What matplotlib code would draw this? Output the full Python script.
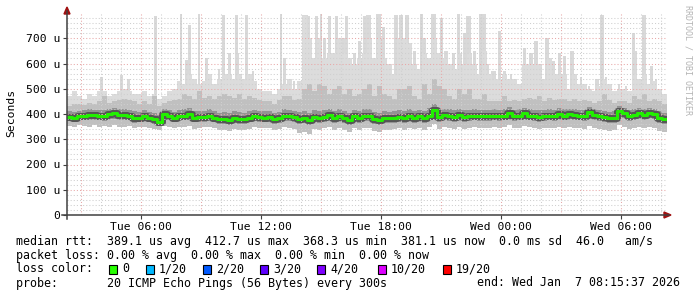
import matplotlib
matplotlib.use('Agg')
import matplotlib.pyplot as plt
from matplotlib.lines import Line2D
from matplotlib.patches import Rectangle, Polygon
import numpy as np

plt.rcParams['font.family'] = 'DejaVu Sans Mono'

# time axis: hours since Tue 00:00, one column per 15 minutes
t_start = 2.3
step = 0.25

median = [
    389, 386, 392, 394, 397, 397, 394, 392, 399, 402, 397, 397, 394, 384, 386, 392, 386, 381, 370, 399,
    392, 386, 392, 394, 399, 386, 389, 389, 394, 386, 381, 381, 378, 386, 381, 381, 386, 392, 389, 386,
    389, 381, 384, 392, 392, 389, 381, 384, 376, 389, 386, 389, 397, 386, 394, 386, 378, 392, 386, 392,
    392, 381, 376, 386, 384, 386, 389, 386, 392, 386, 392, 384, 394, 414, 389, 397, 392, 389, 397, 389,
    392, 394, 392, 392, 392, 394, 392, 394, 405, 392, 394, 402, 394, 392, 389, 392, 394, 392, 399, 394,
    399, 397, 394, 392, 407, 397, 392, 389, 384, 386, 412, 402, 392, 397, 402, 397, 402, 399, 386, 381,
]
# top of the broad light smoke in each column
ping_top = [
    470, 490, 470, 460, 480, 470, 490, 490, 470, 480, 490, 500, 490, 480, 480, 490, 470, 480, 460, 470,
    490, 500, 530, 520, 560, 540, 520, 530, 560, 520, 540, 560, 560, 540, 560, 540, 560, 530, 500, 490,
    490, 480, 500, 520, 540, 500, 530, 790, 700, 620, 700, 620, 640, 640, 700, 640, 620, 600, 620, 640,
    700, 620, 700, 620, 600, 560, 700, 700, 680, 600, 580, 640, 620, 700, 640, 620, 600, 580, 640, 600,
    640, 600, 560, 650, 560, 540, 540, 560, 540, 540, 520, 600, 600, 600, 600, 540, 620, 560, 560, 560,
    500, 560, 520, 520, 500, 490, 510, 540, 520, 490, 500, 500, 490, 560, 540, 560, 520, 530, 500, 480,
]
ping_hi = [
    430, 440, 440, 435, 445, 440, 450, 470, 445, 450, 455, 460, 455, 450, 440, 450, 440, 470, 430, 445,
    450, 455, 460, 480, 470, 460, 490, 465, 470, 460, 470, 480, 470, 465, 480, 460, 470, 465, 455, 450,
    450, 440, 455, 470, 470, 455, 460, 500, 520, 490, 520, 510, 480, 500, 510, 480, 500, 470, 480, 500,
    520, 470, 510, 480, 470, 460, 500, 500, 510, 470, 460, 520, 480, 540, 510, 500, 470, 460, 500, 480,
    500, 460, 460, 480, 450, 450, 450, 470, 450, 455, 450, 460, 465, 460, 470, 450, 465, 455, 460, 460,
    450, 460, 450, 455, 450, 445, 450, 480, 455, 445, 450, 450, 445, 470, 460, 480, 450, 460, 450, 440,
]
ping_q3 = [
    410, 408, 412, 415, 418, 416, 415, 414, 420, 422, 418, 420, 416, 410, 408, 414, 408, 405, 395, 420,
    414, 408, 415, 418, 422, 410, 412, 412, 418, 410, 405, 406, 404, 410, 406, 405, 410, 414, 412, 410,
    412, 405, 408, 418, 416, 412, 406, 410, 404, 415, 412, 416, 420, 412, 418, 410, 404, 416, 410, 418,
    418, 406, 402, 412, 408, 410, 414, 412, 418, 412, 416, 410, 422, 440, 414, 420, 418, 414, 420, 414,
    416, 418, 416, 415, 416, 418, 416, 418, 428, 416, 418, 425, 418, 416, 414, 416, 418, 416, 422, 418,
    420, 418, 416, 415, 428, 420, 415, 412, 408, 410, 432, 424, 415, 420, 424, 420, 424, 420, 410, 405,
]
ping_q1 = [
    372, 370, 375, 376, 378, 378, 376, 374, 380, 382, 378, 378, 375, 366, 368, 374, 368, 362, 352, 380,
    375, 368, 374, 376, 380, 368, 370, 370, 376, 368, 362, 362, 358, 366, 362, 362, 368, 374, 370, 368,
    370, 362, 365, 374, 374, 370, 362, 364, 356, 370, 366, 370, 378, 366, 375, 366, 358, 374, 366, 374,
    374, 362, 356, 366, 364, 366, 370, 366, 374, 366, 374, 364, 376, 395, 370, 378, 374, 370, 378, 370,
    374, 376, 374, 374, 374, 376, 374, 376, 386, 374, 376, 384, 376, 374, 370, 374, 376, 374, 380, 376,
    380, 378, 376, 374, 388, 378, 374, 370, 364, 366, 392, 384, 374, 378, 384, 378, 384, 380, 366, 362,
]
ping_min = [
    352, 350, 356, 354, 350, 356, 348, 352, 350, 356, 350, 348, 352, 345, 348, 350, 346, 342, 336, 352,
    350, 344, 348, 350, 352, 342, 346, 348, 350, 344, 338, 336, 332, 340, 336, 338, 342, 348, 346, 344,
    344, 336, 340, 348, 346, 340, 326, 330, 322, 342, 338, 344, 350, 338, 346, 336, 328, 344, 338, 346,
    344, 334, 328, 336, 338, 340, 344, 338, 344, 340, 346, 336, 348, 362, 340, 348, 344, 340, 348, 342,
    344, 348, 346, 344, 346, 348, 344, 348, 356, 344, 346, 352, 348, 344, 340, 344, 346, 344, 350, 346,
    350, 346, 344, 342, 354, 346, 342, 338, 332, 336, 356, 350, 340, 346, 350, 344, 350, 346, 334, 330,
]

# narrow outlier spikes: time (hours since Tue 00:00), duration (hours), top
spike_t = [4.0, 5.0, 5.35, 6.7,
           8.0, 8.25, 8.4, 8.9, 9.25, 9.9, 10.1, 10.4, 10.75, 10.85, 11.25, 11.6,
           13.0, 13.15, 13.65, 14.2, 14.4, 14.75, 15.0, 15.15, 15.4, 15.75, 16.1, 16.25, 16.65, 16.9, 17.15,
           17.35, 17.85, 18.1, 18.75, 19.0, 19.3, 19.65, 20.0, 20.15, 20.6, 21.0, 21.25, 21.6, 21.85, 22.15,
           22.35, 22.65, 23.05, 23.35, 23.6, 23.9, 24.15, 24.5, 24.75, 25.15, 25.5, 25.75, 26.0, 26.3, 26.6, 26.9, 27.15,
           27.55, 28.0, 28.4, 28.8, 29.05, 29.25, 29.9, 30.25, 30.6, 30.75, 31.15, 31.5, 31.75, 32.0]
spike_w = [0.15, 0.15, 0.15, 0.15,
           0.1, 0.15, 0.15, 0.1, 0.15, 0.1, 0.15, 0.15, 0.15, 0.1, 0.15, 0.1,
           0.1, 0.15, 0.1, 0.3, 0.1, 0.15, 0.1, 0.15, 0.15, 0.15, 0.15, 0.15, 0.15, 0.15, 0.15,
           0.25, 0.25, 0.15, 0.2, 0.2, 0.2, 0.15, 0.15, 0.15, 0.25, 0.15, 0.2, 0.15, 0.15, 0.15,
           0.25, 0.15, 0.35, 0.1, 0.25, 0.15, 0.15, 0.1, 0.1, 0.15, 0.2, 0.2, 0.1, 0.2, 0.15, 0.15, 0.15,
           0.2, 0.1, 0.1, 0.2, 0.2, 0.1, 0.1, 0.1, 0.15, 0.1, 0.2, 0.15, 0.1, 0.1]
spike_top = [545, 555, 540, 790,
             798, 613, 751, 798, 620, 580, 791, 640, 791, 640, 791, 570,
             798, 620, 530, 791, 790, 790, 798, 700, 790, 790, 700, 790, 640, 690, 790,
             791, 798, 745, 791, 791, 791, 650, 798, 700, 798, 780, 650, 640, 798, 720,
             790, 650, 798, 600, 570, 730, 570, 560, 540, 660, 640, 690, 570, 700, 610, 640, 630,
             650, 545, 510, 540, 791, 545, 520, 510, 720, 650, 791, 590, 540, 500]

x_ticks = [6, 12, 18, 24, 30]
x_labels = ['Tue 06:00', 'Tue 12:00', 'Tue 18:00', 'Wed 00:00', 'Wed 06:00']
y_ticks = [0, 100, 200, 300, 400, 500, 600, 700]
y_labels = ['0', '100 u', '200 u', '300 u', '400 u', '500 u', '600 u', '700 u']

loss_labels = ['0', '1/20', '2/20', '3/20', '4/20', '10/20', '19/20']
loss_colors = ['#26ff00', '#00b8ff', '#0059ff', '#5e00ff', '#7e00ff', '#dd00ff', '#ff0000']

W, H = 697, 297
fig = plt.figure(figsize=(W / 100, H / 100), dpi=100)
fig.patch.set_facecolor('white')


def px(x, y):
    return x / W, 1 - y / H


ax = fig.add_axes([67 / W, 82 / H, 600 / W, 202 / H])
ax.set_facecolor('white')

n = len(median)
edges = t_start + step * np.arange(n + 1)


def ext(a):
    a = np.asarray(a, dtype=float)
    return np.append(a, a[-1])


# spikes start inside the mid-grey body so only their upper part shows
ax.bar(spike_t, np.array(spike_top) - 400, bottom=400, width=spike_w,
       color='#d9d9d9', lw=0, zorder=0.9)
ax.fill_between(edges, ext(ping_min), ext(ping_top), step='post', color='#dcdcdc', lw=0, zorder=1)
ax.fill_between(edges, ext(ping_min), ext(ping_hi), step='post', color='#c0c0c0', lw=0, zorder=1.1)
ax.fill_between(edges, ext(ping_q1), ext(ping_q3), step='post', color='#939393', lw=0, zorder=1.2)
ax.step(edges, ext(median), where='post', color='#555555', lw=5, zorder=1.3)

# grid (rrdtool draws it over the smoke)
for h in range(3, 33):
    major = h % 3 == 0
    ax.axvline(h, color='#e8a8a8' if major else '#cfcfcf', lw=0.75,
               ls=(0, (1, 2)), zorder=3)
for v in range(20, 800, 20):
    major = v % 100 == 0
    ax.axhline(v, color='#e8a8a8' if major else '#cfcfcf', lw=0.75,
               ls=(0, (1, 2)), zorder=3)

ax.step(edges, ext(median), where='post', color='#22f000', lw=2.2, zorder=4)

ax.set_xlim(t_start, t_start + 30)
ax.set_ylim(0, 800)
ax.set_xticks(x_ticks)
ax.set_xticklabels(x_labels)
ax.set_yticks(y_ticks)
ax.set_yticklabels(y_labels)
ax.tick_params(axis='both', labelsize=8.2, length=3, width=0.8, color='#404040', pad=2)
for s in ax.spines.values():
    s.set_visible(False)

# axis lines with red arrows
fig.add_artist(Line2D([62 / W, 669 / W], [1 - 215 / H] * 2, color='#404040', lw=1.1))
fig.add_artist(Line2D([67 / W] * 2, [1 - 219 / H, 1 - 11 / H], color='#404040', lw=1.1))
fig.add_artist(Polygon([px(664, 212), px(664, 218), px(671, 215)], closed=True,
                       color='#a01010', transform=fig.transFigure))
fig.add_artist(Polygon([px(64, 14), px(70, 14), px(67, 7)], closed=True,
                       color='#a01010', transform=fig.transFigure))

fig.text(*px(11, 113), 'Seconds', rotation=90, ha='center', va='center', fontsize=8.2)
fig.text(*px(688, 5), 'RRDTOOL / TOBI OETIKER', rotation=270, ha='center', va='top',
         fontsize=6, color='#b4b4b4')

fs = 8.4
fig.text(*px(16, 241), 'median rtt:  389.1 us avg  412.7 us max  368.3 us min  381.1 us now  0.0 ms sd  46.0   am/s',
         va='center', fontsize=fs)
fig.text(*px(16, 255), 'packet loss: 0.00 % avg  0.00 % max  0.00 % min  0.00 % now',
         va='center', fontsize=fs)
fig.text(*px(16, 269), 'loss color:', va='center', fontsize=fs)
sq_x = [109, 146, 203, 260, 317, 378, 443]
for sx, lab, col in zip(sq_x, loss_labels, loss_colors):
    fig.add_artist(Rectangle(px(sx, 274), 8 / W, 9 / H, facecolor=col, edgecolor='black',
                             lw=0.8, transform=fig.transFigure))
    fig.text(*px(sx + 13, 269), lab, va='center', fontsize=fs)
fig.text(*px(16, 283), 'probe:       20 ICMP Echo Pings (56 Bytes) every 300s',
         va='center', fontsize=fs)
fig.text(*px(680, 283), 'end: Wed Jan  7 08:15:37 2026', va='center', ha='right', fontsize=fs)

fig.savefig('out.png', dpi=100)
